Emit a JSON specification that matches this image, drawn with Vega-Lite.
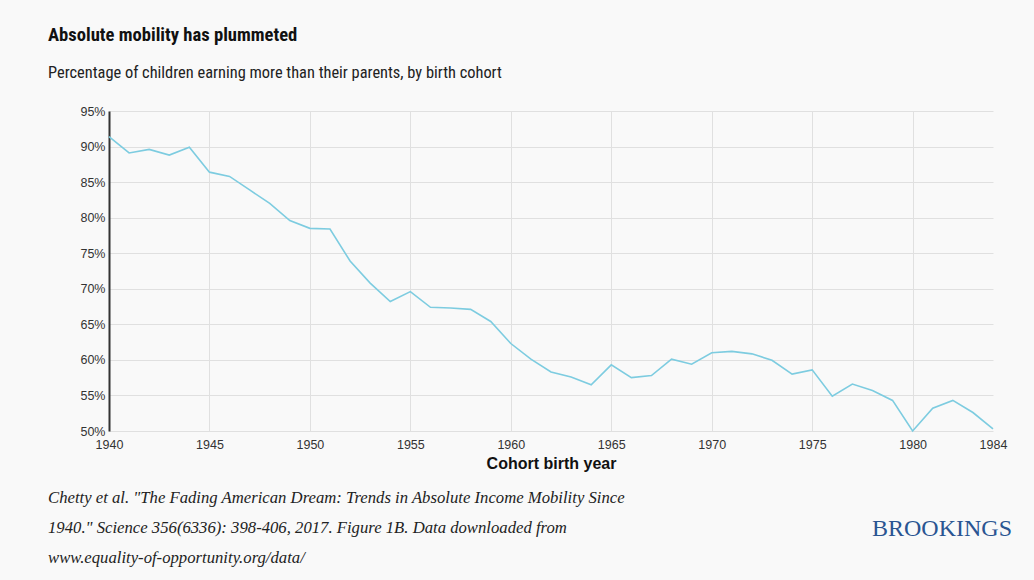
{
  "$schema": "https://vega.github.io/schema/vega-lite/v6.json",
  "width": 884,
  "height": 320,
  "autosize": {"type": "none"},
  "padding": {"left": 109, "top": 111, "right": 41, "bottom": 149},
  "background": "#f9f9f9",
  "title": {
    "text": "Absolute mobility has plummeted",
    "subtitle": "Percentage of children earning more than their parents, by birth cohort",
    "anchor": "start",
    "frame": "group",
    "dx": -61,
    "offset": 24,
    "font": "Roboto Condensed",
    "fontSize": 18.6,
    "fontWeight": "bold",
    "color": "#111111",
    "subtitleFont": "Roboto Condensed",
    "subtitleFontSize": 16.4,
    "subtitleColor": "#222222",
    "subtitlePadding": 20
  },
  "config": {
    "view": {"stroke": null},
    "axis": {
      "labelFont": "Liberation Sans",
      "labelFontSize": 12.5,
      "labelColor": "#333333",
      "gridColor": "#e0e0e0",
      "gridWidth": 1,
      "ticks": false,
      "labelFlush": false
    }
  },
  "layer": [
    {
      "data": {
        "values": [
          {"year": 1940, "pct": 91.4},
          {"year": 1941, "pct": 89.1},
          {"year": 1942, "pct": 89.6},
          {"year": 1943, "pct": 88.8},
          {"year": 1944, "pct": 89.9},
          {"year": 1945, "pct": 86.4},
          {"year": 1946, "pct": 85.8},
          {"year": 1947, "pct": 83.9},
          {"year": 1948, "pct": 82.0},
          {"year": 1949, "pct": 79.6},
          {"year": 1950, "pct": 78.5},
          {"year": 1951, "pct": 78.4},
          {"year": 1952, "pct": 73.9},
          {"year": 1953, "pct": 70.8},
          {"year": 1954, "pct": 68.2},
          {"year": 1955, "pct": 69.6},
          {"year": 1956, "pct": 67.4},
          {"year": 1957, "pct": 67.3},
          {"year": 1958, "pct": 67.1},
          {"year": 1959, "pct": 65.4},
          {"year": 1960, "pct": 62.3},
          {"year": 1961, "pct": 60.1},
          {"year": 1962, "pct": 58.3},
          {"year": 1963, "pct": 57.6},
          {"year": 1964, "pct": 56.5},
          {"year": 1965, "pct": 59.3},
          {"year": 1966, "pct": 57.5},
          {"year": 1967, "pct": 57.8},
          {"year": 1968, "pct": 60.1},
          {"year": 1969, "pct": 59.4},
          {"year": 1970, "pct": 61.0},
          {"year": 1971, "pct": 61.2},
          {"year": 1972, "pct": 60.85},
          {"year": 1973, "pct": 59.95},
          {"year": 1974, "pct": 58.0},
          {"year": 1975, "pct": 58.6},
          {"year": 1976, "pct": 54.9},
          {"year": 1977, "pct": 56.6},
          {"year": 1978, "pct": 55.7},
          {"year": 1979, "pct": 54.3},
          {"year": 1980, "pct": 50.0},
          {"year": 1981, "pct": 53.2},
          {"year": 1982, "pct": 54.3},
          {"year": 1983, "pct": 52.6},
          {"year": 1984, "pct": 50.3}
        ]
      },
      "mark": {"type": "line", "color": "#7dcce0", "strokeWidth": 1.6, "clip": false},
      "encoding": {
        "x": {
          "field": "year",
          "type": "quantitative",
          "scale": {"domain": [1940, 1984], "nice": false, "zero": false},
          "axis": {
            "values": [1940, 1945, 1950, 1955, 1960, 1965, 1970, 1975, 1980, 1984],
            "format": "d",
            "domain": false,
            "labelPadding": 7,
            "gridOpacity": {"expr": "datum.value == 1984 ? 0 : 1"},
            "title": "Cohort birth year",
            "titleFont": "Liberation Sans",
            "titleFontSize": 16,
            "titleFontWeight": "bold",
            "titleColor": "#111111",
            "titlePadding": 5
          }
        },
        "y": {
          "field": "pct",
          "type": "quantitative",
          "scale": {"domain": [50, 95], "nice": false, "zero": false},
          "axis": {
            "values": [50, 55, 60, 65, 70, 75, 80, 85, 90, 95],
            "labelExpr": "datum.value + '%'",
            "domain": true,
            "domainColor": "#333333",
            "domainWidth": 2,
            "labelPadding": 4,
            "title": null
          }
        }
      }
    },
    {
      "data": {"values": [{"note": ["Chetty et al. \"The Fading American Dream: Trends in Absolute Income Mobility Since", "1940.\" Science 356(6336): 398-406, 2017. Figure 1B. Data downloaded from", "www.equality-of-opportunity.org/data/"]}]},
      "mark": {
        "type": "text",
        "align": "left",
        "baseline": "alphabetic",
        "font": "Liberation Serif",
        "fontStyle": "italic",
        "fontSize": 16.7,
        "lineHeight": 30,
        "color": "#222222"
      },
      "encoding": {
        "text": {"field": "note"},
        "x": {"value": -61},
        "y": {"value": 392}
      }
    },
    {
      "data": {"values": [{"logo": "BROOKINGS"}]},
      "mark": {
        "type": "text",
        "align": "right",
        "baseline": "alphabetic",
        "font": "Liberation Serif",
        "fontSize": 24,
        "color": "#2a5592"
      },
      "encoding": {
        "text": {"field": "logo"},
        "x": {"value": 903},
        "y": {"value": 425}
      }
    }
  ]
}
